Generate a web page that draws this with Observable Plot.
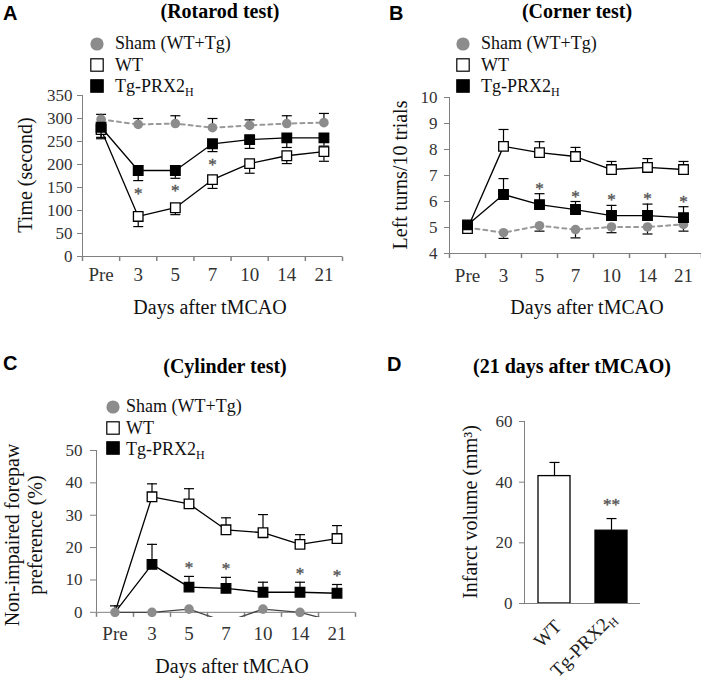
<!DOCTYPE html>
<html><head><meta charset="utf-8">
<script src="https://cdn.jsdelivr.net/npm/d3@7"></script>
<script src="https://cdn.jsdelivr.net/npm/@observablehq/plot@0.6"></script>
<style>
body{margin:0;background:#fff;}
#page{position:relative;width:701px;height:680px;overflow:hidden;background:#fff;font-family:"Liberation Serif","Times New Roman",serif;color:#111;}
.t{position:absolute;white-space:nowrap;line-height:0.9;}
.t sub{font-size:12px;vertical-align:-4px;line-height:0;}
.panel{position:absolute;}
.panel svg{overflow:visible;display:block;}
.panel text{font-family:"Liberation Serif","Times New Roman",serif;}
</style></head><body><div id="page"></div>
<script>
// ---------- data ----------
const days = ["Pre", "3", "5", "7", "10", "14", "21"];

// A: Rotarod test (seconds)
const rotarodSham = [298, 287, 289, 280, 285, 289, 291];
const rotarodShamErr = [11, 13, 17, 20, 12, 17, 20];
const rotarodWT = [276, 87, 106, 167, 202, 219, 228];
const rotarodWTErr = [20, 22, 15, 19, 21, 17, 21];
const rotarodTg = [281, 187, 187, 245, 254, 258, 258];
const rotarodTgErr = [22, 22, 17, 17, 19, 21, 18];
const rotarodSig = ["3", "5", "7"];
const rotarodTicks = [0, 50, 100, 150, 200, 250, 300, 350];

// B: Corner test (left turns / 10 trials)
const cornerSham = [5.0, 4.8, 5.07, 4.92, 5.02, 5.02, 5.12];
const cornerShamErr = [0.05, 0.22, 0.21, 0.32, 0.22, 0.27, 0.26];
const cornerWT = [4.96, 8.12, 7.88, 7.73, 7.23, 7.31, 7.23];
const cornerWTErr = [0.05, 0.65, 0.42, 0.35, 0.31, 0.34, 0.31];
const cornerTg = [5.1, 6.27, 5.88, 5.69, 5.46, 5.46, 5.38];
const cornerTgErr = [0.05, 0.61, 0.42, 0.31, 0.39, 0.44, 0.42];
const cornerSig = ["5", "7", "10", "14", "21"];
const cornerTicks = [4, 5, 6, 7, 8, 9, 10];

// C: Cylinder test (%)
const cylSham = [0, 0, 1, -3, 1, 0, -3];
const cylShamErr = [2, 0, 0, 0, 0, 0, 0];
const cylWT = [0, 35.7, 33.5, 25.5, 24.6, 21, 22.8];
const cylWTErr = [0, 4, 4.7, 3.7, 5.6, 3, 4];
const cylTg = [0, 14.8, 7.8, 7.4, 6.2, 6.2, 5.9];
const cylTgErr = [0, 6.2, 3.3, 3.4, 3.1, 3.1, 2.7];
const cylSig = ["5", "7", "14", "21"];
const cylTicks = [0, 10, 20, 30, 40, 50];

// D: Infarct volume at 21 days (mm3)
const groups = ["WT", "Tg-PRX2H"];
const infarct = [42, 24];
const infarctErr = [4.5, 4];
const infarctSig = ["Tg-PRX2H"];
const infarctTicks = [0, 20, 40, 60];

// ---------- helpers ----------
const SERIF = '"Liberation Serif","Times New Roman",serif';
const SERIF_SVG = "Liberation Serif";
const SANS = '"Liberation Sans",Arial,sans-serif';
const GRAY = "#8c8c8c";
const AXIS = "#808080";
const page = document.getElementById("page");

const capSymbol = {draw(ctx, size) { const h = Math.sqrt(size / Math.PI); ctx.moveTo(-h, 0); ctx.lineTo(h, 0); }};
const downTick = {draw(ctx, size) { const h = Math.sqrt(size / Math.PI); ctx.moveTo(0, 0); ctx.lineTo(0, h); }};

function addText(html, x, baseline, size, opt = {}) {
  const {anchor = "start", weight = "normal", family = SERIF, color = "#111"} = opt;
  const el = document.createElement("div");
  el.className = "t";
  el.innerHTML = html;
  const asc = family === SANS ? 0.7965 : 0.7875;
  el.style.left = x + "px";
  el.style.top = (baseline - asc * size) + "px";
  el.style.fontSize = size + "px";
  el.style.fontWeight = weight;
  el.style.fontFamily = family;
  el.style.color = color;
  if (anchor === "middle") el.style.transform = "translateX(-50%)";
  page.appendChild(el);
}
function addVText(html, cx, cy, size, lh) {
  const el = document.createElement("div");
  el.className = "t";
  el.innerHTML = html;
  el.style.left = cx + "px";
  el.style.top = cy + "px";
  el.style.fontSize = size + "px";
  el.style.lineHeight = (lh || size) + "px";
  el.style.textAlign = "center";
  el.style.transform = "translate(-50%,-50%) rotate(-90deg)";
  page.appendChild(el);
}
function addLegend(mx, cys, tx, bls) {
  const labels = ["Sham (WT+Tg)", "WT", "Tg-PRX2<sub>H</sub>"];
  const kinds = ["circle", "open", "filled"];
  kinds.forEach((k, j) => {
    const s = document.createElementNS("http://www.w3.org/2000/svg", "svg");
    s.setAttribute("width", 16); s.setAttribute("height", 16);
    s.style.position = "absolute";
    s.style.left = (mx - 8) + "px"; s.style.top = (cys[j] - 8) + "px";
    s.innerHTML = k === "circle"
      ? `<circle cx="8" cy="8" r="6.6" fill="${GRAY}"/>`
      : `<rect x="1.8" y="1.8" width="12.4" height="12.4" fill="${k === "open" ? "#fff" : "#000"}" stroke="#000" stroke-width="1.2"/>`;
    page.appendChild(s);
    addText(labels[j], tx, bls[j], 18);
  });
}
function place(svg, left, top) {
  const d = document.createElement("div");
  d.className = "panel";
  d.style.left = left + "px"; d.style.top = top + "px";
  d.appendChild(svg);
  page.appendChild(d);
}
function rows(vals, errs, dir) {
  return vals.map((v, i) => ({i, day: days[i], v, err: errs[i], end: v + dir * errs[i]}));
}
const errMarks = s => {
  const e = s.filter(d => d.err > 0);
  return [
    Plot.ruleX(e, {x: "i", y1: "v", y2: "end", stroke: "#000", strokeWidth: 1.2}),
    Plot.dot(e, {x: "i", y: "end", symbol: capSymbol, r: 5, fill: "none", stroke: "#000", strokeWidth: 1.2})
  ];
};

function linePanel(o) {
  const n = days.length;
  const idx = d3.range(n);
  const bounds = d3.range(n + 1).map(k => k - 0.5);
  const sham = rows(o.sham, o.shamErr, o.shamDir);
  const wt = rows(o.wt, o.wtErr, o.wtDir);
  const tg = rows(o.tg, o.tgErr, o.tgDir);
  const shown = s => o.hidePre ? s.filter(d => d.i > 0) : s;
  const shamMarks = [
    Plot.line(sham, {x: "i", y: "v", stroke: o.shamStroke, strokeWidth: o.shamWidth, strokeDasharray: o.shamDash, clip: o.clip}),
    ...errMarks(sham),
    Plot.dot(sham, {x: "i", y: "v", r: 4.8, fill: GRAY, clip: o.clip})
  ];
  const series = (s, fill) => [
    ...errMarks(s),
    Plot.line(s, {x: "i", y: "v", stroke: "#000", strokeWidth: 1.3}),
    Plot.dot(shown(s), {x: "i", y: "v", symbol: "square", r: 5.4, fill, stroke: "#000", strokeWidth: 1.3})
  ];
  const sig = tg.filter(d => o.sig.includes(d.day));
  return Plot.plot({
    width: o.width, height: o.height,
    marginLeft: o.ml, marginRight: o.mr, marginTop: o.mt, marginBottom: o.mb,
    x: {domain: [-0.5, n - 0.5], axis: null},
    y: {domain: o.domain, axis: null},
    style: {fontFamily: SERIF_SVG, fontSize: "17px", background: "transparent", overflow: "visible", color: "#333"},
    marks: [
      Plot.ruleX([-0.5], {y1: o.y0, y2: o.ticks[o.ticks.length - 1], stroke: AXIS}),
      Plot.ruleY([o.y0], {x1: -0.5, x2: n - 0.5, stroke: AXIS}),
      Plot.dot(bounds, {x: d => d, y: o.y0, symbol: downTick, r: 4.5, stroke: AXIS, fill: "none"}),
      Plot.axisY({ticks: o.ticks, tickSize: o.tickSize, tickPadding: o.tickPad, tickFormat: d => String(d), fontSize: 17, fontFamily: SERIF_SVG, stroke: AXIS, color: "#333", label: null}),
      Plot.text(idx, {x: d => d, y: o.y0, text: i => days[i], lineAnchor: "top", dy: o.xPad, fontSize: 19, fontFamily: SERIF_SVG, fill: "#333"}),
      ...(o.shamFirst ? shamMarks : []),
      ...series(wt, "#fff"),
      ...series(tg, "#000"),
      ...(o.shamFirst ? [] : shamMarks),
      Plot.text(sig, {x: "i", y: "end", text: () => "*", lineAnchor: "bottom", dy: o.sigDy, fontSize: 17, fontFamily: SERIF_SVG, fill: "#555", stroke: "#555", strokeWidth: 0.4})
    ]
  });
}

// ---------- panel A ----------
place(linePanel({
  width: 350, height: 330, ml: 82, mr: 8, mt: 95, mb: 74,
  domain: [0, 350], y0: 0, ticks: rotarodTicks, tickSize: 5, tickPad: 5, xPad: 11,
  sham: rotarodSham, shamErr: rotarodShamErr, shamDir: 1,
  wt: rotarodWT, wtErr: rotarodWTErr, wtDir: -1,
  tg: rotarodTg, tgErr: rotarodTgErr, tgDir: -1,
  shamStroke: "#999", shamWidth: 2, shamDash: "4,4", shamFirst: true,
  sig: rotarodSig, sigDy: 18
}), 0, 0);

// ---------- panel B ----------
place(linePanel({
  width: 351, height: 330, ml: 99, mr: 0, mt: 97, mb: 77,
  domain: [4, 10], y0: 4, ticks: cornerTicks, tickSize: 5, tickPad: 7, xPad: 15,
  sham: cornerSham, shamErr: cornerShamErr, shamDir: -1,
  wt: cornerWT, wtErr: cornerWTErr, wtDir: 1,
  tg: cornerTg, tgErr: cornerTgErr, tgDir: 1,
  shamStroke: "#999", shamWidth: 2, shamDash: "4,4", shamFirst: true,
  sig: cornerSig, sigDy: 0
}), 350, 0);

// ---------- panel C ----------
place(linePanel({
  width: 360, height: 340, ml: 96, mr: 5, mt: 110, mb: 63,
  domain: [-1.6, 50], y0: 0, ticks: cylTicks, tickSize: 6, tickPad: 8, xPad: 14,
  sham: cylSham, shamErr: cylShamErr, shamDir: 1,
  wt: cylWT, wtErr: cylWTErr, wtDir: 1,
  tg: cylTg, tgErr: cylTgErr, tgDir: 1,
  shamStroke: "#444", shamWidth: 1.3, shamDash: null, shamFirst: false, clip: true, hidePre: true,
  sig: cylSig, sigDy: -3.5
}), 0, 340);

// ---------- panel D ----------
const dRows = groups.map((g, i) => ({g, i, v: infarct[i], err: infarctErr[i], end: infarct[i] + infarctErr[i]}));
const dPlot = Plot.plot({
  width: 271, height: 340, marginLeft: 94, marginRight: 61, marginTop: 81, marginBottom: 77,
  x: {domain: groups, paddingInner: 0.44, paddingOuter: 0.226, axis: null},
  y: {domain: [0, 60], axis: null},
  style: {fontFamily: SERIF_SVG, fontSize: "17px", background: "transparent", overflow: "visible", color: "#333"},
  marks: [
    Plot.ruleX(dRows, {x: "g", y1: "v", y2: "end", stroke: "#000", strokeWidth: 1.2}),
    Plot.dot(dRows, {x: "g", y: "end", symbol: capSymbol, r: 5, fill: "none", stroke: "#000", strokeWidth: 1.2}),
    Plot.barY(dRows.filter(d => d.i === 0), {x: "g", y: "v", fill: "#fff", stroke: "#000", strokeWidth: 1.3}),
    Plot.barY(dRows.filter(d => d.i === 1), {x: "g", y: "v", fill: "#000", stroke: "#000", strokeWidth: 1.3}),
    Plot.axisY({ticks: infarctTicks, tickSize: 5, tickPadding: 7, fontSize: 17, fontFamily: SERIF_SVG, stroke: AXIS, color: "#333", label: null}),
    Plot.frame({anchor: "left", stroke: AXIS}),
    Plot.ruleY([0], {stroke: AXIS}),
    Plot.text(dRows.filter(d => d.i === 0), {x: "g", frameAnchor: "bottom", text: "g", rotate: -45, textAnchor: "end", lineAnchor: "bottom", dx: 8, dy: 24, fontSize: 19, fontFamily: SERIF_SVG, fill: "#222"}),
    Plot.text(dRows.filter(d => d.i === 1), {x: "g", frameAnchor: "bottom", text: "g", rotate: -45, textAnchor: "end", lineAnchor: "bottom", dx: 5, dy: 16, fontSize: 19, fontFamily: SERIF_SVG, fill: "#222"}),
    Plot.text(dRows.filter(d => infarctSig.includes(d.g)), {x: "g", y: "end", text: () => "**", lineAnchor: "bottom", dy: -8.5, fontSize: 17, fontFamily: SERIF_SVG, fill: "#555", stroke: "#555", strokeWidth: 0.4})
  ]
});
dPlot.querySelectorAll("text").forEach(t => {
  if (t.textContent === "Tg-PRX2H") {
    t.textContent = "Tg-PRX2";
    const ts = document.createElementNS("http://www.w3.org/2000/svg", "tspan");
    ts.setAttribute("font-size", "12");
    ts.setAttribute("dy", "4");
    ts.textContent = "H";
    t.appendChild(ts);
  }
});
place(dPlot, 430, 340);

// ---------- text: letters, titles, axis titles, legends ----------
addText("A", 3, 20, 20, {weight: "bold", family: SANS, color: "#000"});
addText("B", 389, 20, 20, {weight: "bold", family: SANS, color: "#000"});
addText("C", 3, 370, 20, {weight: "bold", family: SANS, color: "#000"});
addText("D", 387, 371, 20, {weight: "bold", family: SANS, color: "#000"});

addText("(Rotarod test)", 220, 17.5, 20, {anchor: "middle", weight: "bold", color: "#000"});
addText("(Corner test)", 577, 17.5, 20, {anchor: "middle", weight: "bold", color: "#000"});
addText("(Cylinder test)", 225, 373, 20, {anchor: "middle", weight: "bold", color: "#000"});
addText("(21 days after tMCAO)", 572, 373, 20, {anchor: "middle", weight: "bold", color: "#000"});

addText("Days after tMCAO", 210, 314, 20, {anchor: "middle"});
addText("Days after tMCAO", 587, 314, 20, {anchor: "middle"});
addText("Days after tMCAO", 232, 673, 20, {anchor: "middle"});

addVText("Time (second)", 25, 175, 20);
addVText("Left turns/10 trials", 400, 175, 20);
addVText("Non-impaired forepaw<br>preference (%)", 24, 535, 20, 23);
addVText("Infarct volume (mm³)", 470, 512, 20);

addLegend(97, [43.5, 65, 86], 115, [49.5, 71.5, 92]);
addLegend(463, [43.5, 65, 86], 481, [49.5, 71.5, 92]);
addLegend(112.7, [406.7, 428.3, 448.3], 126, [411.7, 434, 455]);
</script>
</body></html>
